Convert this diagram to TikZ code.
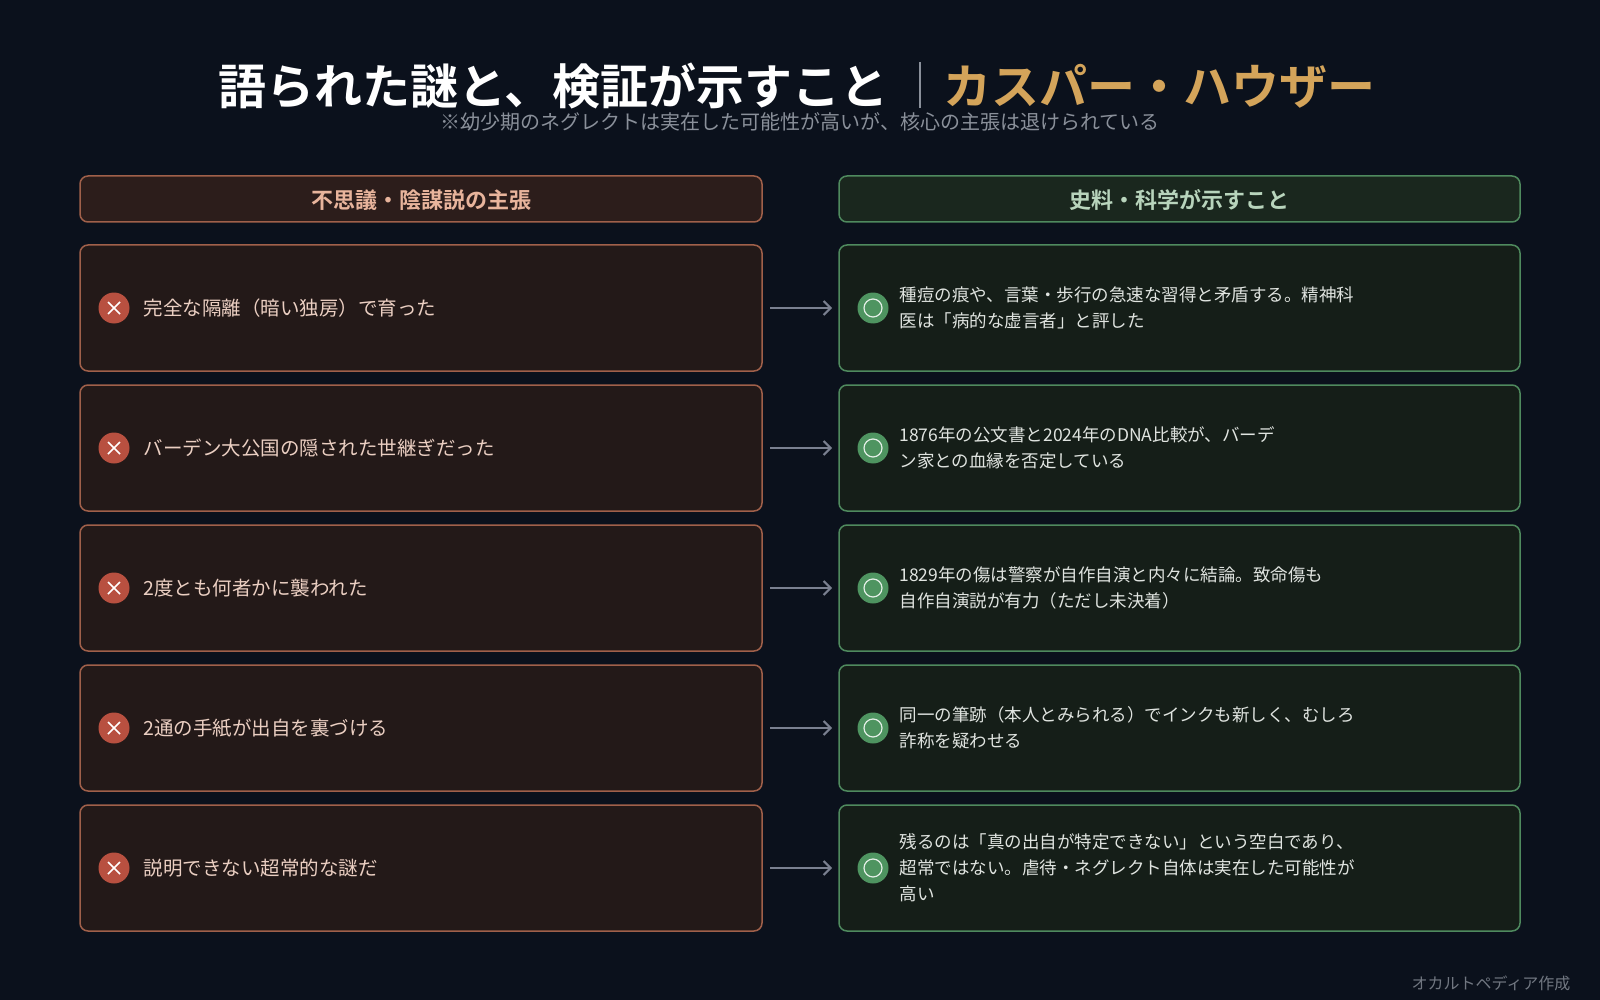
\documentclass[tikz,border=0pt]{standalone}
\usepackage{fontspec}
\setmainfont{Noto Sans CJK JP}
\newfontfamily\jpb{Noto Sans CJK JP Bold}
\usetikzlibrary{arrows.meta,calc}
\definecolor{bg}{HTML}{0B111C}
\definecolor{lfill}{HTML}{231918}
\definecolor{lhfill}{HTML}{2C1D1B}
\definecolor{lstroke}{HTML}{A0604A}
\definecolor{ltext}{HTML}{E8B49C}
\definecolor{lbody}{HTML}{EBCFC2}
\definecolor{rfill}{HTML}{151E18}
\definecolor{rhfill}{HTML}{1A271E}
\definecolor{rstroke}{HTML}{4F8A5E}
\definecolor{rtext}{HTML}{B8D4BC}
\definecolor{xred}{HTML}{B85040}
\definecolor{ogreen}{HTML}{4E9460}
\definecolor{body}{HTML}{E0E4E0}
\definecolor{gold}{HTML}{D4A45A}
\definecolor{sub}{HTML}{8A909A}
\definecolor{arr}{HTML}{7A8090}
\tikzset{
 lbox/.style={draw=lstroke,fill=lfill,line width=1.5pt,rounded corners=8pt},
 rbox/.style={draw=rstroke,fill=rfill,line width=1.5pt,rounded corners=8pt},
 ltxt/.style={text=lbody,font=\fontsize{19.5}{26}\selectfont,anchor=west,align=left},
 txt/.style={text=body,font=\fontsize{17.5}{26}\selectfont,anchor=west,align=left},
 conn/.style={draw=arr,line width=2pt,-{Straight Barb[length=7pt,width=14pt]}}
}
\begin{document}
\begin{tikzpicture}[x=1pt,y=-1pt]
\fill[bg] (0,0) rectangle (1600,1000);
\useasboundingbox (0,0) rectangle (1600,1000);
\node[anchor=east,text=white,font=\jpb\fontsize{48}{52}\selectfont] (t1) at (892,86) {語られた謎と、検証が示すこと};
\draw[sub,line width=1.5pt] (920,62) -- (920,108);
\node[anchor=west,text=gold,font=\jpb\fontsize{48}{52}\selectfont] (t2) at (940,86) {カスパー・ハウザー};
\node[text=sub,font=\fontsize{20}{22}\selectfont] (st) at (800,122) {※幼少期のネグレクトは実在した可能性が高いが、核心の主張は退けられている};
\draw[lbox,fill=lhfill] (80,176) rectangle (762,222);
\node[text=ltext,font=\jpb\fontsize{22}{24}\selectfont] (hl) at (421,200) {不思議・陰謀説の主張};
\draw[rbox,fill=rhfill] (839,176) rectangle (1520,222);
\node[text=rtext,font=\jpb\fontsize{22}{24}\selectfont] (hr) at (1179,200) {史料・科学が示すこと};
\foreach \i/\l/\r in {
 0/{完全な隔離（暗い独房）で育った}/{種痘の痕や、言葉・歩行の急速な習得と矛盾する。精神科\\医は「病的な虚言者」と評した},
 1/{バーデン大公国の隠された世継ぎだった}/{1876年の公文書と2024年のDNA比較が、バーデ\\ン家との血縁を否定している},
 2/{2度とも何者かに襲われた}/{1829年の傷は警察が自作自演と内々に結論。致命傷も\\自作自演説が有力（ただし未決着）},
 3/{2通の手紙が出自を裏づける}/{同一の筆跡（本人とみられる）でインクも新しく、むしろ\\詐称を疑わせる},
 4/{説明できない超常的な謎だ}/{残るのは「真の出自が特定できない」という空白であり、\\超常ではない。虐待・ネグレクト自体は実在した可能性が\\高い}}{
 \pgfmathsetmacro\yt{245+140*\i}
 \pgfmathsetmacro\yc{\yt+63}
 \draw[lbox] (80,\yt) rectangle (762,\yt+126);
 \draw[rbox] (839,\yt) rectangle (1520,\yt+126);
 \node[circle,fill=xred,minimum size=31pt,inner sep=0pt] (x\i) at (114,\yc) {};
 \draw[white,line width=1.6pt] ($(x\i)+(-6,-6)$) -- ($(x\i)+(6,6)$) ($(x\i)+(-6,6)$) -- ($(x\i)+(6,-6)$);
 \node[ltxt] (l\i) at (140,\yc) {\l};
 \node[circle,fill=ogreen,minimum size=31pt,inner sep=0pt] (o\i) at (873,\yc) {};
 \draw[white!85!ogreen,line width=1.2pt] (o\i) circle (9pt);
 \node[txt] (r\i) at (896,\yc) {\r};
 \coordinate (a\i) at (770,\yc);
 \coordinate (b\i) at (832,\yc);
 \draw[conn] (a\i) -- (b\i);
}
\node[anchor=east,text=sub!80!bg,font=\fontsize{16}{18}\selectfont] (ft) at (1574,983) {オカルトペディア作成};
\end{tikzpicture}
\end{document}
